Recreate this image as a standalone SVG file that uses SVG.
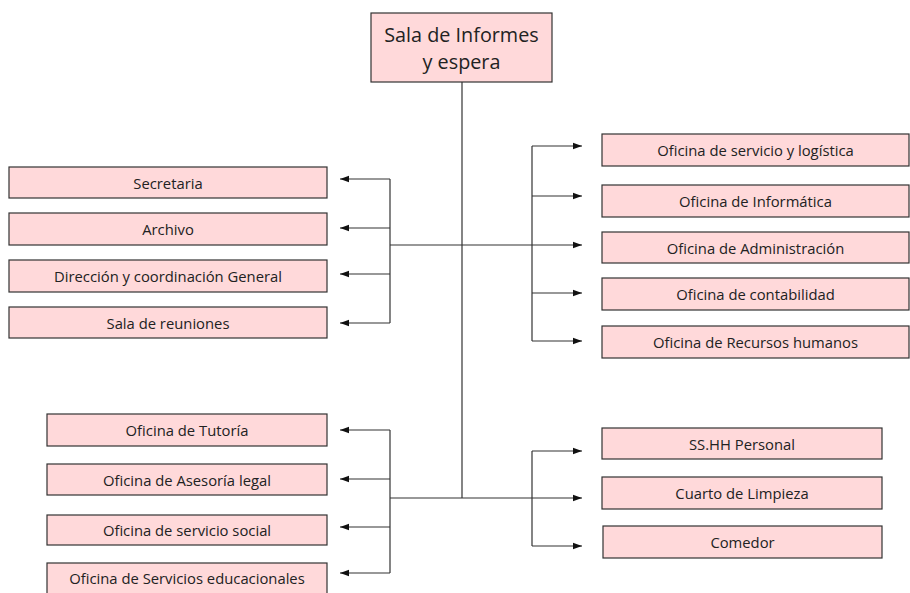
<svg xmlns="http://www.w3.org/2000/svg" width="910" height="593" viewBox="0 0 910 593">
<style>
.box{fill:#FFD9DA;stroke:#333;stroke-width:1.2}
.t{font-family:"Open Sans","Liberation Sans",sans-serif;font-size:14.8px;fill:#222;text-anchor:middle;dominant-baseline:central}
.tt{font-size:19.8px}
.c{stroke:#333;stroke-width:1.2;fill:none}
</style>
<defs>
<marker id="ah" markerUnits="userSpaceOnUse" markerWidth="10" markerHeight="8" refX="9" refY="4" orient="auto">
<path d="M0,0.8 L9,4 L0,7.2 Z" fill="#111"/>
</marker>
</defs>
<rect width="910" height="593" fill="#fff"/>
<g id="connectors">
<path class="c" d="M462,82 V498"/>
<path class="c" d="M390,245 H532"/>
<path class="c" d="M390,179 V323"/>
<path class="c" d="M390,179 H340" marker-end="url(#ah)"/>
<path class="c" d="M390,228 H340" marker-end="url(#ah)"/>
<path class="c" d="M390,274 H340" marker-end="url(#ah)"/>
<path class="c" d="M390,323 H340" marker-end="url(#ah)"/>
<path class="c" d="M532,146 V341"/>
<path class="c" d="M532,146 H582" marker-end="url(#ah)"/>
<path class="c" d="M532,196 H582" marker-end="url(#ah)"/>
<path class="c" d="M532,245 H582" marker-end="url(#ah)"/>
<path class="c" d="M532,293 H582" marker-end="url(#ah)"/>
<path class="c" d="M532,341 H582" marker-end="url(#ah)"/>
<path class="c" d="M390,430 V573"/>
<path class="c" d="M390,430 H340" marker-end="url(#ah)"/>
<path class="c" d="M390,479 H340" marker-end="url(#ah)"/>
<path class="c" d="M390,527 H340" marker-end="url(#ah)"/>
<path class="c" d="M390,573 H340" marker-end="url(#ah)"/>
<path class="c" d="M390,498 H582" marker-end="url(#ah)"/>
<path class="c" d="M532,451 V546"/>
<path class="c" d="M532,451 H582" marker-end="url(#ah)"/>
<path class="c" d="M532,546 H582" marker-end="url(#ah)"/>
</g>
<g id="n-sala-informes"><rect class="box" x="371" y="13" width="181" height="69"/><text class="t tt" x="461.5" y="34">Sala de Informes</text><text class="t tt" x="461.5" y="61">y espera</text></g>
<g id="n-secretaria"><rect class="box" x="9" y="167" width="318" height="31"/><text class="t" x="168" y="182.5">Secretaria</text></g>
<g id="n-archivo"><rect class="box" x="9" y="213" width="318" height="32"/><text class="t" x="168" y="229">Archivo</text></g>
<g id="n-direccion"><rect class="box" x="9" y="260" width="318" height="32"/><text class="t" x="168" y="276">Dirección y coordinación General</text></g>
<g id="n-sala-reuniones"><rect class="box" x="9" y="307" width="318" height="31"/><text class="t" x="168" y="322.5">Sala de reuniones</text></g>
<g id="n-servicio-logistica"><rect class="box" x="602" y="134" width="307" height="32"/><text class="t" x="755.5" y="150">Oficina de servicio y logística</text></g>
<g id="n-informatica"><rect class="box" x="602" y="185" width="307" height="32"/><text class="t" x="755.5" y="201">Oficina de Informática</text></g>
<g id="n-administracion"><rect class="box" x="602" y="232" width="307" height="31"/><text class="t" x="755.5" y="247.5">Oficina de Administración</text></g>
<g id="n-contabilidad"><rect class="box" x="602" y="278" width="307" height="32"/><text class="t" x="755.5" y="294">Oficina de contabilidad</text></g>
<g id="n-rrhh"><rect class="box" x="602" y="326" width="307" height="32"/><text class="t" x="755.5" y="342">Oficina de Recursos humanos</text></g>
<g id="n-tutoria"><rect class="box" x="47" y="414" width="280" height="32"/><text class="t" x="187" y="430">Oficina de Tutoría</text></g>
<g id="n-asesoria"><rect class="box" x="47" y="464" width="280" height="31"/><text class="t" x="187" y="479.5">Oficina de Asesoría legal</text></g>
<g id="n-servicio-social"><rect class="box" x="47" y="515" width="280" height="30"/><text class="t" x="187" y="530">Oficina de servicio social</text></g>
<g id="n-servicios-educacionales"><rect class="box" x="47" y="563" width="280" height="32"/><text class="t" x="187" y="578">Oficina de Servicios educacionales</text></g>
<g id="n-sshh"><rect class="box" x="602" y="428" width="280" height="31"/><text class="t" x="742" y="443.5">SS.HH Personal</text></g>
<g id="n-limpieza"><rect class="box" x="602" y="477" width="280" height="32"/><text class="t" x="742" y="493">Cuarto de Limpieza</text></g>
<g id="n-comedor"><rect class="box" x="603" y="526" width="279" height="32"/><text class="t" x="742.5" y="542">Comedor</text></g>
</svg>
